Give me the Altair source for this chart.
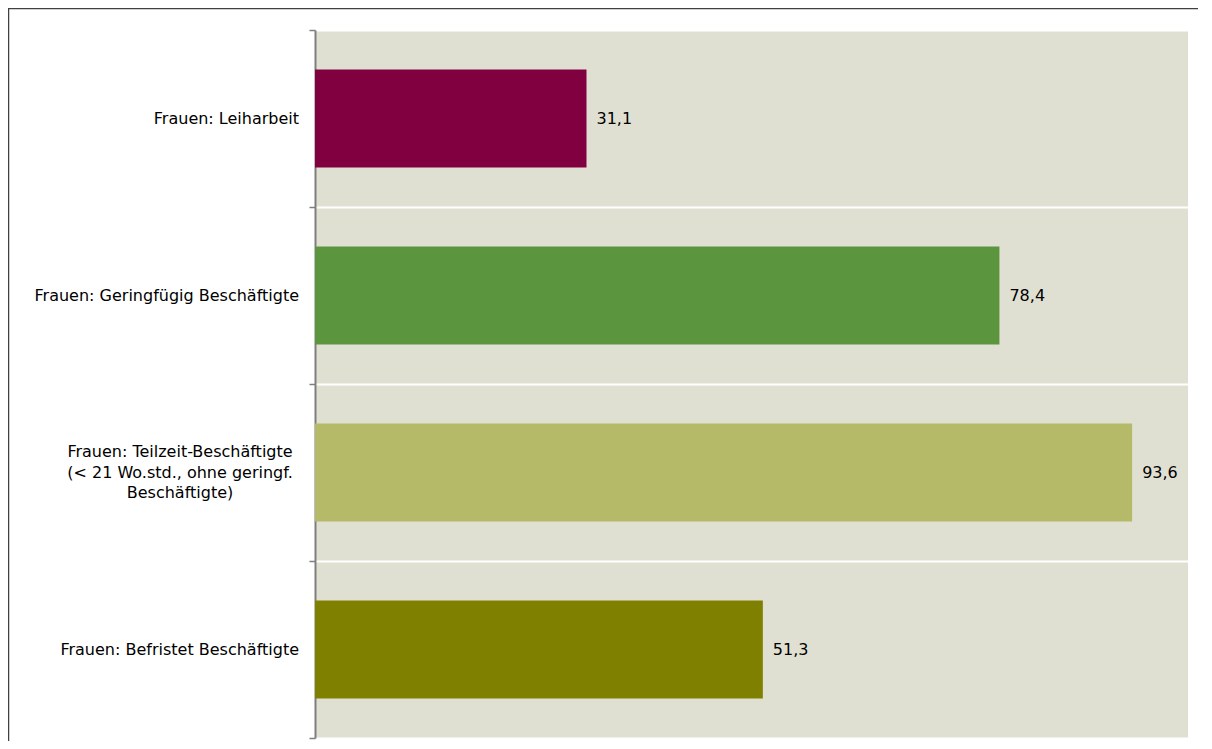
import altair as alt
import pandas as pd

categories = [
    "Frauen: Leiharbeit",
    "Frauen: Geringfügig Beschäftigte",
    "Frauen: Teilzeit-Beschäftigte|(< 21 Wo.std., ohne geringf.|Beschäftigte)",
    "Frauen: Befristet Beschäftigte",
]
values = [31.1, 78.4, 93.6, 51.3]
colors = ["#800040", "#5B963E", "#B5BA68", "#808000"]

df = pd.DataFrame({"cat": categories, "value": values, "color": colors})

W, H = 873, 708
FONT = "DejaVu Sans"
FS = 16

y_enc = alt.Y(
    "cat:N",
    sort=categories,
    scale=alt.Scale(paddingInner=0, paddingOuter=0),
    axis=alt.Axis(
        title=None,
        labels=False,
        tickBand="extent",
        grid=True,
        gridColor="#FFFFFF",
        gridWidth=2,
        domainColor="#7F7F7F",
        domainWidth=2,
        tickColor="#7F7F7F",
        tickSize=6,
        tickWidth=1.5,
    ),
)

base = alt.Chart(df)

bars = base.mark_bar(size=98).encode(
    y=y_enc,
    x=alt.X("value:Q", scale=alt.Scale(domain=[0, 100]), axis=None),
    color=alt.Color("color:N", scale=None),
)

vals = base.mark_text(align="left", baseline="middle", dx=10, font=FONT, fontSize=FS, color="#000000").transform_calculate(
    lab="replace(format(datum.value, '.1f'), '.', ',')"
).encode(
    y=alt.Y("cat:N", sort=categories),
    x=alt.X("value:Q"),
    text="lab:N",
)

single = base.transform_filter("indexof(datum.cat, '|') < 0").mark_text(
    align="right", baseline="middle", font=FONT, fontSize=FS, color="#000000"
).encode(
    y=alt.Y("cat:N", sort=categories),
    x=alt.value(-16),
    text="cat:N",
)

multi = base.transform_filter("indexof(datum.cat, '|') >= 0").transform_calculate(
    lines="split(datum.cat, '|')"
).mark_text(
    align="center", baseline="middle", font=FONT, fontSize=FS, color="#000000", lineHeight=20.5, dy=-20.5
).encode(
    y=alt.Y("cat:N", sort=categories),
    x=alt.value(-135),
    text="lines:N",
)

frame = base.transform_filter("datum.value == 31.1").mark_rect(
    filled=False, stroke="#404040", strokeWidth=1.5
).encode(
    x=alt.value(-306.5),
    x2=alt.value(W + 200),
    y=alt.value(-21.5),
    y2=alt.value(H + 200),
)

chart = alt.layer(frame, bars, vals, single, multi).properties(
    width=W,
    height=H,
    background="#FFFFFF",
    autosize=alt.AutoSizeParams(type="none"),
    padding={"left": 307, "top": 22, "right": 10, "bottom": 3},
).configure_view(
    fill="#E0E0D2",
    strokeWidth=0,
)

chart.save("out.html", embed_options={"renderer": "svg", "actions": False})
